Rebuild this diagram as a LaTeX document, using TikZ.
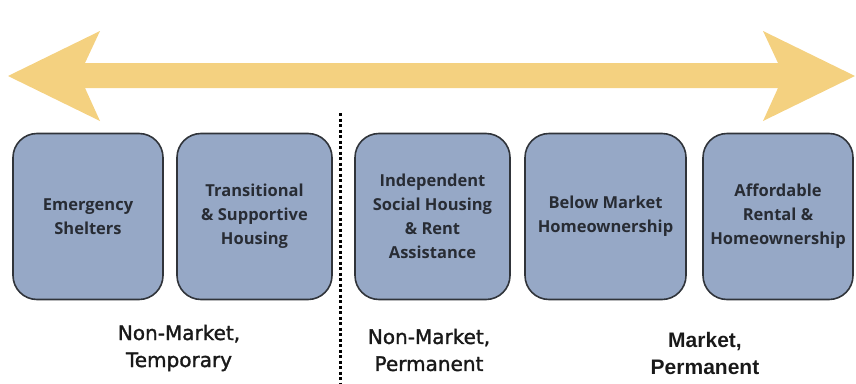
\documentclass[tikz,border=0pt]{standalone}
\usepackage{fontspec}
\setmainfont{Open Sans}
\newfontfamily\groupfont[FakeBold=1.5]{DejaVu Sans}
\newfontfamily\marketfont{Liberation Sans}
\usepackage{tikz}
\definecolor{gold}{RGB}{244,209,128}
\definecolor{slate}{RGB}{150,168,198}
\definecolor{edge}{RGB}{48,52,58}
\definecolor{ink}{RGB}{40,44,52}

\begin{document}
\begin{tikzpicture}[x=1pt, y=-1pt,
house/.style ={shape=rectangle, rounded corners=24pt, draw=edge, line width=1.6pt,
  fill=slate, minimum height=166pt, align=center, text=ink,
  font=\bfseries\fontsize{16.5}{24}\selectfont},
group/.style ={align=center, text=black!90, font=\groupfont\fontsize{20}{27}\selectfont}]
\useasboundingbox (0,0) rectangle (856,383);
% double arrow along the top
\fill[gold] (8,76) -- (100,31) -- (85,63) -- (778,63) -- (763,31) -- (855,76)
  -- (763,121) -- (778,88) -- (85,88) -- (100,121) -- cycle;
\draw[line width=3pt, dash pattern=on 3pt off 2.5pt] (340,113) -- (340,383);
\node[house, minimum width=150pt] (shelter) at (88,216.5) {Emergency\\Shelters};
\node[house, minimum width=155pt] (transit) at (254.5,216.5) {Transitional\\\& Supportive\\Housing};
\node[house, minimum width=155pt] (social) at (432.5,216.5) {Independent\\Social Housing\\\& Rent\\Assistance};
\node[house, minimum width=161pt] (below) at (605.5,216.5) {Below Market\\Homeownership};
\node[house, minimum width=150pt, inner xsep=1pt] (afford) at (778,216.5) {Affordable\\Rental \&\\Homeownership};
\node[group] (temp) at (179,348) {Non-Market,\\Temporary};
\node[group] (perm) at (429,350) {Non-Market,\\Permanent};
\node[group, font=\marketfont\bfseries\fontsize{21}{27}\selectfont] (market) at (705,353) {Market,\\Permanent};
\end{tikzpicture}
\end{document}
